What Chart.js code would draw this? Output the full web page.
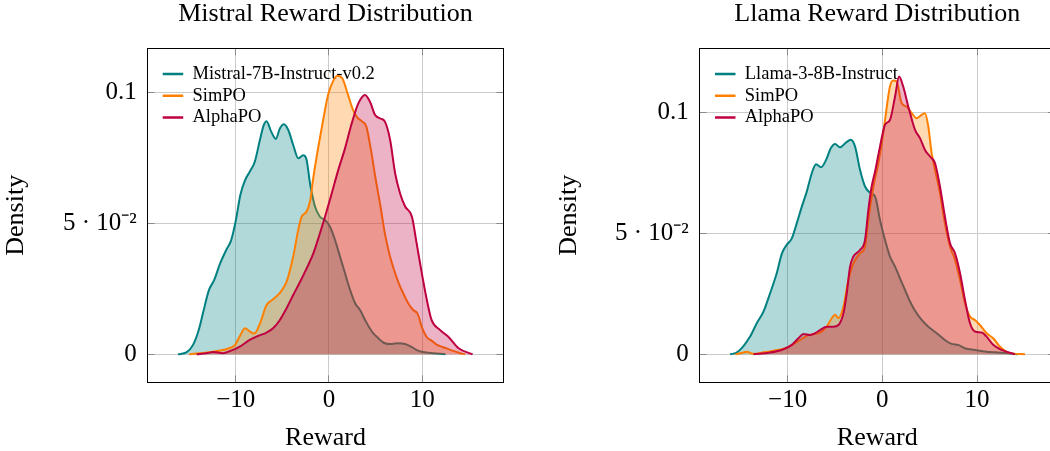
<!DOCTYPE html>
<html><head><meta charset="utf-8">
<script src="https://cdn.jsdelivr.net/npm/chart.js@4.4.1/dist/chart.umd.min.js"></script>
<style>
html,body{margin:0;padding:0;background:#fff;overflow:hidden;width:1050px;height:451px;}
#c1{position:absolute;left:0;top:0;}
#c2{position:absolute;left:540px;top:0;}
</style></head><body>
<canvas id="c1" width="520" height="451"></canvas>
<canvas id="c2" width="530" height="451"></canvas>
<script>
// ---------- data ----------
const xTicks = [-10, 0, 10];
const xTickLabels = ['\u221210', '0', '10'];
const yTicks = [0, 0.05, 0.1];
const yTickLabels = ['0', '5 \u00b7 10\u207b\u00b2', '0.1'];

const mistralTitle = 'Mistral Reward Distribution';
const llamaTitle = 'Llama Reward Distribution';
const mistralLabels = ['Mistral-7B-Instruct-v0.2', 'SimPO', 'AlphaPO'];
const llamaLabels = ['Llama-3-8B-Instruct', 'SimPO', 'AlphaPO'];

const mistralBaseX = [-16.2,-15.3,-14.6,-14.0,-13.5,-12.9,-12.3,-11.7,-11.0,-10.5,-10.0,-9.5,-9.0,-8.5,-7.96,-7.4,-7.0,-6.7,-6.2,-5.7,-5.27,-4.84,-4.37,-3.84,-3.3,-2.76,-2.4,-2.04,-1.5,-0.97,-0.43,0.1,0.65,1.18,1.72,2.26,2.8,3.33,3.87,4.6,5.3,6.0,6.56,7.28,8.17,8.9,9.6,10.7,12.5];
const mistralBaseY = [0,0.0007,0.0035,0.009,0.016,0.0243,0.0285,0.0345,0.040,0.0435,0.051,0.061,0.0665,0.0697,0.0735,0.082,0.0875,0.089,0.085,0.0822,0.0862,0.0878,0.0856,0.0799,0.0748,0.076,0.0742,0.0653,0.0564,0.0525,0.0513,0.0487,0.0436,0.0373,0.0309,0.0246,0.0195,0.0169,0.0131,0.0087,0.0061,0.0042,0.0039,0.0042,0.0039,0.0027,0.0013,0.0006,0];

const mistralSimpoX = [-15.0,-13.9,-12.8,-11.7,-10.8,-10.1,-9.6,-9.0,-8.5,-8.0,-7.4,-6.7,-6.0,-5.3,-4.55,-3.84,-3.3,-2.94,-2.4,-2.0,-1.7,-1.2,-0.6,-0.1,0.4,0.9,1.4,2.0,2.5,3.0,3.5,4.0,4.5,5.0,5.5,6.0,6.5,7.0,7.5,8.0,8.5,9.0,9.5,10.0,10.5,11.0,11.5,12.0,12.5,13.0,13.5,14.0,14.6];
const mistralSimpoY = [0,0.0004,0.0008,0.0014,0.0022,0.0035,0.0067,0.0099,0.0087,0.0079,0.0118,0.0188,0.021,0.0233,0.0277,0.0373,0.0475,0.0525,0.0545,0.059,0.067,0.078,0.090,0.099,0.104,0.1063,0.1055,0.0995,0.094,0.0905,0.089,0.087,0.078,0.067,0.057,0.046,0.038,0.032,0.027,0.023,0.0195,0.017,0.0155,0.010,0.0065,0.0052,0.0038,0.0030,0.0024,0.0017,0.0011,0.0005,0];

const mistralAlphaX = [-14.2,-13.15,-12.4,-11.4,-10.5,-9.57,-8.5,-7.6,-6.7,-6.0,-5.27,-4.55,-3.84,-3.1,-2.4,-1.68,-0.97,-0.3,0.29,1.0,1.72,2.44,3.15,3.87,4.4,4.95,5.5,6.0,6.56,7.1,7.63,8.17,8.9,9.4,9.96,10.5,11.0,11.9,12.8,13.9,15.4];
const mistralAlphaY = [0,0.0004,0.0009,0.0004,0.0014,0.0029,0.0055,0.007,0.0083,0.0099,0.0131,0.0176,0.0226,0.0277,0.0328,0.0385,0.0462,0.054,0.0614,0.0704,0.0786,0.0882,0.0958,0.099,0.0964,0.0913,0.090,0.0888,0.0818,0.069,0.0614,0.0564,0.0525,0.0424,0.0309,0.0207,0.0131,0.0093,0.0067,0.0023,0];

const llamaBaseX = [-16.07,-15.4,-14.7,-13.96,-13.26,-12.55,-11.85,-11.15,-10.6,-10.1,-9.56,-9.04,-8.5,-7.98,-7.45,-7.0,-6.47,-5.94,-5.45,-4.99,-4.47,-3.83,-3.34,-2.88,-2.36,-1.83,-1.23,-0.77,-0.25,0.28,0.8,1.34,1.86,2.39,2.92,3.45,4.15,4.85,5.73,6.6,7.3,8.0,8.7,9.77,10.8,11.9,13.3,14.3];
const llamaBaseY = [0,0.0007,0.0032,0.0073,0.0128,0.0176,0.0252,0.0335,0.0417,0.0452,0.0479,0.0541,0.061,0.0672,0.0748,0.0785,0.0773,0.0803,0.0851,0.0869,0.0855,0.0875,0.0886,0.0858,0.0762,0.0693,0.0665,0.0652,0.0555,0.0472,0.0404,0.0362,0.0314,0.0266,0.0218,0.018,0.0142,0.0114,0.0087,0.0059,0.0043,0.0039,0.0025,0.0018,0.0012,0.0008,0.0004,0];

const llamaSimpoX = [-15.5,-15.0,-14.3,-13.6,-12.55,-11.5,-10.44,-9.74,-8.68,-7.98,-7.28,-6.58,-5.87,-5.34,-4.99,-4.64,-4.11,-3.59,-3.06,-2.36,-1.83,-1.48,-0.95,-0.42,-0.07,0.28,0.8,1.16,1.5,2.04,2.57,3.1,3.62,4.15,4.5,4.85,5.2,5.56,6.08,6.6,7.14,7.67,8.2,8.72,9.25,9.77,10.3,11.0,11.7,12.4,13.3,15.05];
const llamaSimpoY = [0,0.0004,0.001,0.0002,0.0008,0.0015,0.0023,0.0034,0.0059,0.0076,0.0083,0.009,0.0114,0.0149,0.0163,0.0149,0.0197,0.0307,0.0376,0.0417,0.0445,0.0555,0.0693,0.0789,0.087,0.0968,0.1106,0.1131,0.1127,0.1037,0.1023,0.0996,0.0975,0.0989,0.0996,0.0941,0.0831,0.0762,0.0665,0.0541,0.0445,0.039,0.0307,0.0211,0.0156,0.0142,0.0121,0.0087,0.0066,0.0032,0.0007,0];

const llamaAlphaX = [-13.6,-11.85,-10.44,-9.56,-8.86,-8.33,-7.63,-7.1,-6.58,-5.87,-5.17,-4.64,-4.11,-3.76,-3.41,-3.06,-2.36,-1.83,-1.48,-1.13,-0.77,-0.25,0.28,0.8,1.34,1.76,2.2,2.74,3.45,3.97,4.5,5.03,5.56,6.08,6.6,7.14,7.67,8.2,8.72,9.25,9.77,10.48,11.0,11.7,12.6,14.0];
const llamaAlphaY = [0,0.0007,0.0021,0.0039,0.0066,0.0084,0.008,0.0087,0.01,0.0114,0.0114,0.0121,0.0169,0.0252,0.0362,0.0404,0.0431,0.0472,0.0596,0.0693,0.0755,0.0858,0.0948,0.0968,0.1065,0.1147,0.1106,0.1023,0.0927,0.0893,0.0844,0.0817,0.0789,0.0693,0.0569,0.0459,0.0417,0.0335,0.0225,0.0128,0.0094,0.009,0.0073,0.0039,0.0018,0];

// ---------- styling ----------
const FONT = "'Liberation Serif', 'Times New Roman', serif";
const lineColors = ['#008080', '#ff8000', '#bf0040'];
const fillColors = ['rgba(0,128,128,0.3)', 'rgba(255,128,0,0.3)', 'rgba(191,0,64,0.3)'];
const GRID = '#cbcbcb';
const TICKC = '#8a8a8a';

const zip = (xs, ys) => xs.map((x, i) => ({x: x, y: ys[i]}));

// places the built-in legend at a fixed offset from the plot area's top-left corner
const legendShift = {
  id: 'legendShift',
  afterLayout(chart, args, opts) {
    const l = chart.legend;
    if (!l) return;
    const w = l.right - l.left, h = l.bottom - l.top;
    l.left = chart.chartArea.left + opts.dx; l.right = l.left + w;
    l.top = chart.chartArea.top + opts.dy; l.bottom = l.top + h;
  }
};

function makeChart(canvas, c) {
  const setTicks = (arr) => (s) => { s.ticks = arr.map(v => ({value: v})); };
  const datasets = c.series.map((s, i) => ({
    label: c.labels[i],
    data: zip(s[0], s[1]),
    borderColor: lineColors[i],
    backgroundColor: fillColors[i],
    borderWidth: 2,
    fill: 'origin',
    pointRadius: 0,
    cubicInterpolationMode: 'monotone',
    order: 3 - i
  }));
  return new Chart(canvas, {
    type: 'line',
    data: {datasets},
    plugins: [legendShift],
    options: {
      responsive: false,
      animation: false,
      events: [],
      layout: {padding: {left: 0, top: 0, right: c.padRight, bottom: 0}},
      plugins: {
        tooltip: {enabled: false},
        title: {display: false},
        legendShift: {dx: c.legendDx, dy: 13.25},
        legend: {
          position: 'chartArea',
          align: 'start',
          labels: {
            boxWidth: 20.5, boxHeight: 2.5, padding: 3.2, color: '#000',
            font: {family: FONT, size: 18.5},
            generateLabels: (ch) => ch.data.datasets.map((d, i) => ({
              text: d.label, fillStyle: d.borderColor, strokeStyle: d.borderColor,
              lineWidth: 0, hidden: false, datasetIndex: i, fontColor: '#000'
            }))
          }
        }
      },
      scales: {
        x: {
          type: 'linear', position: 'bottom', min: c.xMin, max: c.xMax,
          afterBuildTicks: setTicks(xTicks),
          afterFit: (s) => { s.height = 68.7; },
          grid: {color: GRID, lineWidth: 1, drawTicks: true, tickLength: -7, tickColor: TICKC, tickWidth: 1},
          border: {display: true, color: '#000', width: 1},
          ticks: {padding: 10, color: '#000', autoSkip: false, maxRotation: 0,
                  font: {family: FONT, size: 25}, callback: (v, i) => xTickLabels[i]},
          title: {display: true, text: 'Reward', color: '#000',
                  font: {family: FONT, size: 26, lineHeight: 1}, padding: {top: 0, bottom: 0}}
        },
        x2: {
          type: 'linear', position: 'top', display: true, min: c.xMin, max: c.xMax,
          afterBuildTicks: setTicks(xTicks),
          afterFit: (s) => { s.height = 48.3; },
          grid: {drawOnChartArea: false, drawTicks: true, tickLength: -7, tickColor: TICKC, tickWidth: 1},
          border: {display: true, color: '#000', width: 1},
          ticks: {display: false},
          title: {display: true, text: c.title, color: '#000',
                  font: {family: FONT, size: 26, lineHeight: 1}, padding: {top: 1, bottom: 0}}
        },
        y: {
          type: 'linear', position: 'left', min: c.yMin, max: c.yMax,
          afterBuildTicks: setTicks(yTicks),
          afterFit: (s) => { s.width = c.yAxisWidth; },
          grid: {color: GRID, lineWidth: 1, drawTicks: true, tickLength: -7, tickColor: TICKC, tickWidth: 1},
          border: {display: true, color: '#000', width: 1},
          ticks: {padding: 18, color: '#000', autoSkip: false,
                  font: {family: FONT, size: 25}, callback: (v, i) => yTickLabels[i]},
          title: {display: true, text: 'Density', color: '#000',
                  font: {family: FONT, size: 26, lineHeight: 1}, padding: {top: c.yTitlePad, bottom: 0}}
        },
        y2: {
          type: 'linear', position: 'right', display: true, min: c.yMin, max: c.yMax,
          afterBuildTicks: setTicks(yTicks),
          afterFit: (s) => { s.width = 0; },
          grid: {drawOnChartArea: false, drawTicks: true, tickLength: -7, tickColor: TICKC, tickWidth: 1},
          border: {display: true, color: '#000', width: 1},
          ticks: {display: false}
        }
      }
    }
  });
}

makeChart(document.getElementById('c1'), {
  title: mistralTitle, labels: mistralLabels,
  series: [[mistralBaseX, mistralBaseY], [mistralSimpoX, mistralSimpoY], [mistralAlphaX, mistralAlphaY]],
  xMin: -19.45, xMax: 18.7, yMin: -0.0107, yMax: 0.1168,
  yAxisWidth: 147.7, padRight: 16.7, yTitlePad: 3.5, legendDx: 11.8
});
makeChart(document.getElementById('c2'), {
  title: llamaTitle, labels: llamaLabels,
  series: [[llamaBaseX, llamaBaseY], [llamaSimpoX, llamaSimpoY], [llamaAlphaX, llamaAlphaY]],
  xMin: -19.28, xMax: 18.2, yMin: -0.01157, yMax: 0.1264,
  yAxisWidth: 159.7, padRight: 15.2, yTitlePad: 15.9, legendDx: 12.1
});
</script></body></html>
